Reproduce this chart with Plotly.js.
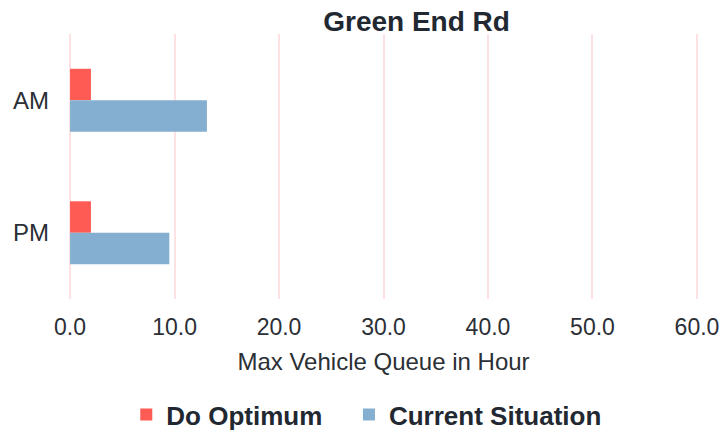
<!DOCTYPE html>
<html>
<head>
<meta charset="utf-8">
<script src="https://cdn.plot.ly/plotly-3.0.1.min.js"></script>
<style>
  html, body { margin: 0; padding: 0; background: #ffffff; }
  #chart { width: 722px; height: 432px; }
</style>
</head>
<body>
<div id="chart"></div>
<script>
// Peak periods on the vertical axis
const periods = ['AM', 'PM'];

// Max vehicle queue in hour for each scenario
const doOptimum = [2.0, 2.0];
const currentSituation = [13.1, 9.5];

// Horizontal axis ticks
const xTickVals = [0, 10, 20, 30, 40, 50, 60];
const xTickText = ['0.0', '10.0', '20.0', '30.0', '40.0', '50.0', '60.0'];

const FONT = 'Liberation Sans, Arial, sans-serif';
const GRID = '#FCE2E2';
// non-breaking spaces widen the gap between the two legend entries
const LEGEND_PAD = '\u00A0\u00A0\u00A0';

const traces = [
  {
    type: 'bar',
    orientation: 'h',
    name: '<b>Do Optimum' + LEGEND_PAD + '</b>',
    y: periods,
    x: doOptimum,
    marker: { color: '#FF5B55' },
    hoverinfo: 'x+name'
  },
  {
    type: 'bar',
    orientation: 'h',
    name: '<b>Current Situation</b>',
    y: periods,
    x: currentSituation,
    marker: { color: '#85AFD0' },
    hoverinfo: 'x+name'
  }
];

const layout = {
  width: 722,
  height: 432,
  paper_bgcolor: '#ffffff',
  plot_bgcolor: '#ffffff',
  margin: { l: 69, r: 24, t: 34, b: 133 },
  font: { family: FONT, color: '#2b2f36' },
  title: {
    text: '<b>Green End Rd</b>',
    font: { family: FONT, size: 28, color: '#222831' },
    xref: 'container',
    x: 0.577,
    xanchor: 'center',
    yref: 'container',
    y: 0.952,
    yanchor: 'middle'
  },
  barmode: 'group',
  bargap: 0.525,
  bargroupgap: 0,
  xaxis: {
    // a hair of padding keeps the gridlines at 0 and 60 visible
    range: [-0.1, 60.1],
    tickvals: xTickVals,
    ticktext: xTickText,
    showgrid: true,
    gridcolor: GRID,
    gridwidth: 2,
    zeroline: true,
    zerolinecolor: GRID,
    zerolinewidth: 2,
    showline: false,
    ticks: '',
    ticklabelstandoff: 12,
    tickfont: { family: FONT, size: 23, color: '#2b2f36' },
    title: {
      text: 'Max Vehicle Queue in Hour',
      font: { family: FONT, size: 24, color: '#2b2f36' },
      standoff: 14
    },
    fixedrange: true
  },
  yaxis: {
    type: 'category',
    categoryorder: 'array',
    categoryarray: periods,
    autorange: 'reversed',
    showgrid: false,
    zeroline: false,
    showline: false,
    ticks: '',
    ticklabelstandoff: 19,
    tickfont: { family: FONT, size: 24, color: '#2b2f36' },
    fixedrange: true
  },
  showlegend: true,
  legend: {
    orientation: 'h',
    xref: 'container',
    x: 0.508,
    xanchor: 'center',
    yref: 'container',
    y: 0.04,
    yanchor: 'middle',
    font: { family: FONT, size: 26, color: '#222831' },
    itemclick: false,
    itemdoubleclick: false,
    traceorder: 'normal'
  }
};

Plotly.newPlot('chart', traces, layout, { displayModeBar: false, staticPlot: true });
</script>
</body>
</html>
